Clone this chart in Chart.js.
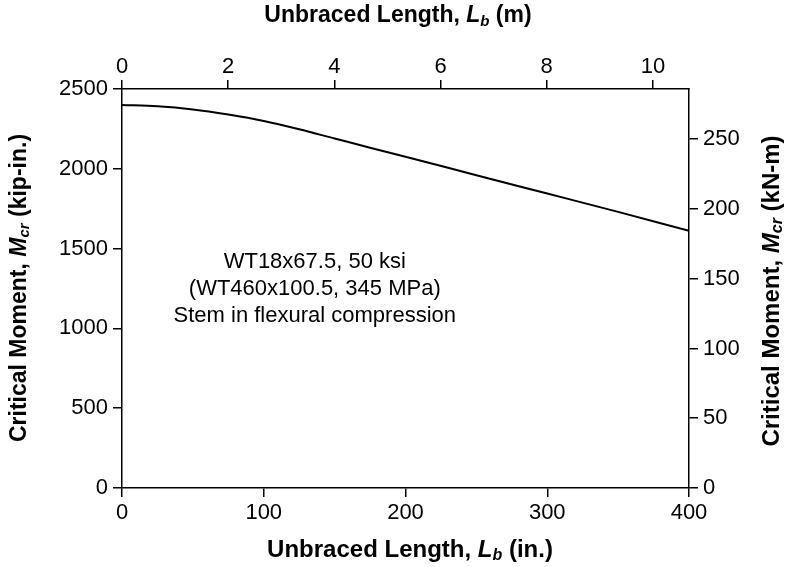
<!DOCTYPE html>
<html>
<head>
<meta charset="utf-8">
<script src="https://cdn.jsdelivr.net/npm/chart.js@4.4.0/dist/chart.umd.min.js"></script>
<style>
  html, body { margin: 0; padding: 0; background: #fff; }
</style>
</head>
<body>
<canvas id="chart" width="786" height="567"></canvas>
<script>
// unbraced length (in.) and critical moment (kip-in.)
var lengthIn = [0, 25, 50, 75, 100, 125, 150, 175, 200, 250, 300, 350, 400];
var momentKipIn = [2400, 2392, 2372, 2340, 2300, 2248, 2190, 2132, 2076, 1960, 1845, 1730, 1612];

var bottomTicks = [0, 100, 200, 300, 400];
var topTicks = [0, 2, 4, 6, 8, 10];          // metres
var leftTicks = [0, 500, 1000, 1500, 2000, 2500];
var rightTicks = [0, 50, 100, 150, 200, 250]; // kN-m

var noteLines = ['WT18x67.5, 50 ksi', '(WT460x100.5, 345 MPa)', 'Stem in flexural compression'];

var FONT = '"Liberation Sans", Arial, sans-serif';
Chart.defaults.font.family = FONT;
Chart.defaults.color = '#000';

var points = lengthIn.map(function (x, i) { return { x: x, y: momentKipIn[i] }; });

function axisOpts(pos, min, max, tickVals, size, pad) {
  return {
    type: 'linear',
    position: pos,
    min: min,
    max: max,
    afterBuildTicks: function (scale) {
      scale.ticks = tickVals.map(function (v) { return { value: v }; });
    },
    afterFit: function (scale) {
      if (pos === 'top' || pos === 'bottom') scale.height = size;
      else scale.width = size;
    },
    ticks: {
      color: '#000',
      font: { size: 22 },
      padding: pad,
      maxRotation: 0,
      autoSkip: false,
      callback: function (v) { return String(v); }
    },
    grid: {
      drawOnChartArea: false,
      drawTicks: true,
      tickLength: 9,
      color: '#000',
      lineWidth: 1.5
    },
    border: { color: '#000', width: 1.5 }
  };
}

// draws a label with italic symbol and subscript
function richText(ctx, parts, cx, cy, angle) {
  var total = 0;
  parts.forEach(function (p) {
    ctx.font = p.f;
    total += ctx.measureText(p.t).width;
  });
  ctx.save();
  ctx.translate(cx, cy);
  ctx.rotate(angle);
  ctx.textBaseline = 'middle';
  ctx.textAlign = 'left';
  ctx.fillStyle = '#000';
  var x = -total / 2;
  parts.forEach(function (p) {
    ctx.font = p.f;
    ctx.fillText(p.t, x, p.dy || 0);
    x += ctx.measureText(p.t).width;
  });
  ctx.restore();
}

function label(size, word, sym, sub, unit) {
  return [
    { t: word, f: 'bold ' + size + 'px ' + FONT },
    { t: sym, f: 'italic bold ' + size + 'px ' + FONT },
    { t: sub, f: 'italic bold ' + Math.round(size * 0.66) + 'px ' + FONT, dy: size * 0.25 },
    { t: unit, f: 'bold ' + size + 'px ' + FONT }
  ];
}

var titlesPlugin = {
  id: 'titles',
  afterDraw: function (chart) {
    var ctx = chart.ctx;

    richText(ctx, label(24, 'Unbraced Length, ', 'L', 'b', ' (in.)'), 410, 550, 0);
    richText(ctx, label(23, 'Unbraced Length, ', 'L', 'b', ' (m)'), 398, 16, 0);
    richText(ctx, label(23, 'Critical Moment, ', 'M', 'cr', ' (kip-in.)'), 19.5, 288, -Math.PI / 2);
    richText(ctx, label(24, 'Critical Moment, ', 'M', 'cr', ' (kN-m)'), 772, 291, -Math.PI / 2);

    // note inside the plot
    var nx = chart.scales.x.getPixelForValue(136);
    ctx.save();
    ctx.font = '22px ' + FONT;
    ctx.fillStyle = '#000';
    ctx.textAlign = 'center';
    ctx.textBaseline = 'middle';
    noteLines.forEach(function (line, i) {
      ctx.fillText(line, nx, 262 + i * 27);
    });
    ctx.restore();
  }
};

new Chart(document.getElementById('chart').getContext('2d'), {
  type: 'line',
  data: {
    datasets: [{
      data: points,
      borderColor: '#000',
      borderWidth: 2,
      pointRadius: 0,
      fill: false,
      cubicInterpolationMode: 'monotone'
    }]
  },
  options: {
    responsive: false,
    animation: false,
    layout: { padding: 0 },
    plugins: {
      legend: { display: false },
      tooltip: { enabled: false }
    },
    scales: {
      x: axisOpts('bottom', 0, 400, bottomTicks, 79, 3),
      x2: axisOpts('top', 0, 10.68, topTicks, 89, 0),
      y: axisOpts('left', 0, 2500, leftTicks, 122, 5),
      y2: axisOpts('right', 0, 286, rightTicks, 97, 5)
    }
  },
  plugins: [titlesPlugin]
});
</script>
</body>
</html>
